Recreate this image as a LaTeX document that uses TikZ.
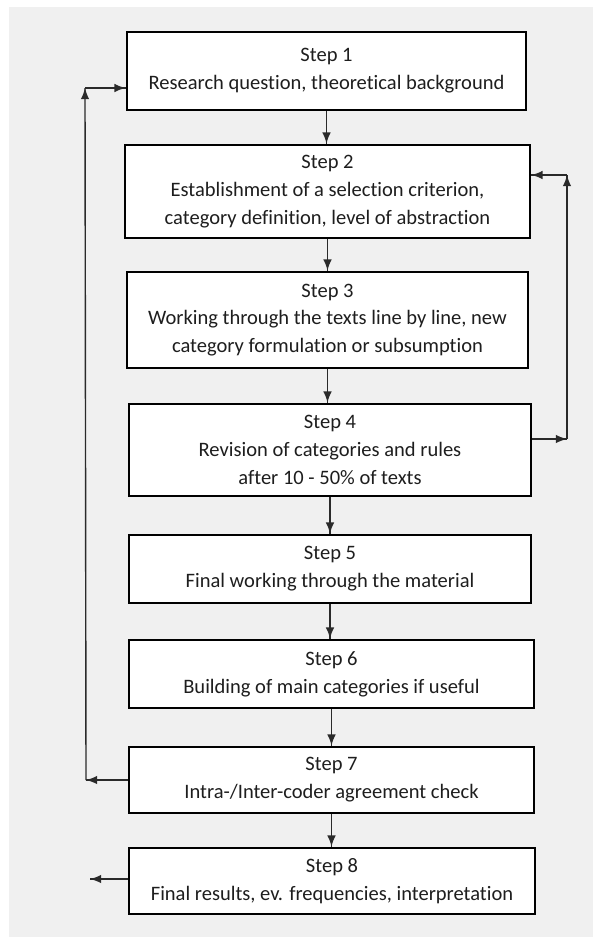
\documentclass[tikz,border=0pt]{standalone}
\usepackage{fontspec}
\setmainfont{Carlito}[Ligatures=NoCommon]
\usepackage{tikz}
\usetikzlibrary{calc}
\usetikzlibrary{arrows,decorations.markings}

\definecolor{bggrey}{HTML}{F0F0F0}
\definecolor{txtgrey}{HTML}{1E1E1E}
\definecolor{arrgrey}{HTML}{2A2A2A}

\tikzset{
  stepbox/.style={draw=black,line width=2.8bp,fill=white,align=center,
    text=txtgrey,inner sep=0pt,font=\fontsize{20.6}{28}\selectfont},
  flow/.style={draw=arrgrey,line width=1.4bp,postaction={decorate}}
}

\begin{document}
\begin{tikzpicture}
% define arrow head
[
    x=1bp,y=-1bp,
    decoration={
      markings,
      mark=at position 1 with {\arrow[scale=1.6,arrgrey]{latex}};
    }
]
% page and background
\useasboundingbox (0,0) rectangle (593,937);
\fill[bggrey] (9,7) rectangle (593,937);

% steps
\node[stepbox,minimum width=399bp,minimum height=78bp] (s1) at (326.5,71)
  {Step 1\\Research question, theoretical background};
\node[stepbox,minimum width=405bp,minimum height=93bp] (s2) at (327.5,191.5)
  {Step 2\\Establishment of a selection criterion,\\category definition, level of abstraction};
\node[stepbox,minimum width=401bp,minimum height=96bp] (s3) at (327.5,320)
  {Step 3\\Working through the texts line by line, new\\category formulation or subsumption};
\node[stepbox,minimum width=402bp,minimum height=92bp] (s4) at (330,450)
  {Step 4\\Revision of categories and rules\\after 10 - 50\% of texts};
\node[stepbox,minimum width=402bp,minimum height=68bp] (s5) at (330,569)
  {Step 5\\Final working through the material};
\node[stepbox,minimum width=405bp,minimum height=68bp] (s6) at (331.5,674)
  {Step 6\\Building of main categories if useful};
\node[stepbox,minimum width=405bp,minimum height=66bp] (s7) at (331.5,780)
  {Step 7\\Intra-/Inter-coder agreement check};
\node[stepbox,minimum width=406bp,minimum height=66bp] (s8) at (332,881)
  {Step 8\\Final results, ev. frequencies, interpretation};

% downward arrows
\foreach \i/\j in {1/2,2/3,3/4,4/5,5/6,6/7,7/8}
  \draw[flow] (s\i.south) -- (s\i.south |- s\j.north);

% left feedback loop
\coordinate (L7) at (86,780);
\coordinate (L1) at (85,88);
\draw[flow] (s7.west) -- (L7);
\draw[flow] (L7) -- (L1);
\draw[flow] (L1) -- (L1 -| s1.west);

% right feedback loop
\coordinate (R4) at (567,439);
\coordinate (R2) at (567,175);
\draw[flow] (s4.east |- R4) -- (R4);
\draw[flow] (R4) -- (R2);
\draw[flow] (R2) -- (R2 -| s2.east);

% output
\coordinate (E8) at (90,879);
\draw[flow] (s8.west |- E8) -- (E8);
\end{tikzpicture}
\end{document}
